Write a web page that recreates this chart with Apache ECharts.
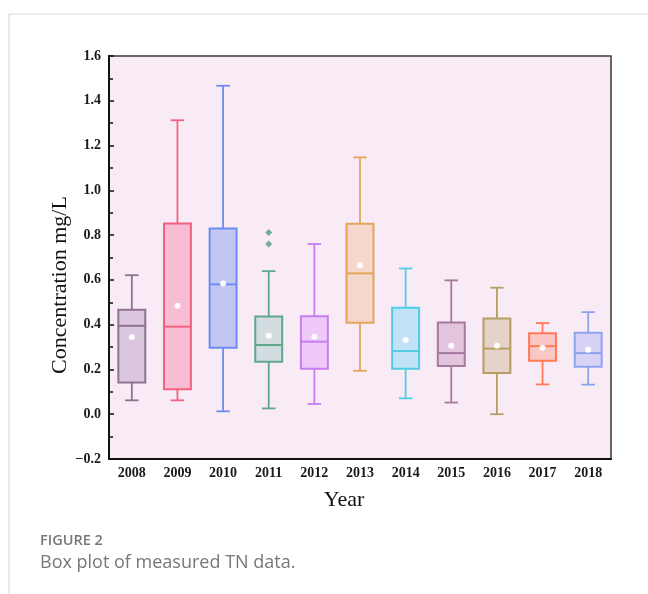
<!DOCTYPE html>
<html>
<head>
<meta charset="utf-8">
<title>Box plot of measured TN data</title>
<script src="https://cdn.jsdelivr.net/npm/echarts@6/dist/echarts.min.js"></script>
<style>
  html, body { margin: 0; padding: 0; background: #ffffff; }
  #chart { width: 648px; height: 594px; }
</style>
</head>
<body>
<div id="chart"></div>
<script>
// Yearly TN concentration summaries (mg/L)
const years = ['2008', '2009', '2010', '2011', '2012', '2013', '2014', '2015', '2016', '2017', '2018'];
const whiskerLow  = [0.062, 0.062, 0.013, 0.026, 0.046, 0.194, 0.071, 0.052, 0.000, 0.133, 0.132];
const quartile1   = [0.142, 0.111, 0.297, 0.234, 0.203, 0.409, 0.203, 0.215, 0.184, 0.239, 0.212];
const medians     = [0.395, 0.391, 0.580, 0.309, 0.324, 0.629, 0.282, 0.273, 0.293, 0.304, 0.273];
const quartile3   = [0.467, 0.852, 0.830, 0.437, 0.438, 0.851, 0.476, 0.410, 0.428, 0.362, 0.364];
const whiskerHigh = [0.621, 1.313, 1.467, 0.639, 0.760, 1.147, 0.651, 0.598, 0.565, 0.407, 0.456];
const means       = [0.345, 0.484, 0.584, 0.351, 0.346, 0.665, 0.331, 0.306, 0.306, 0.297, 0.288];

// Outliers beyond the whiskers
const outlierYears  = ['2011', '2011'];
const outlierValues = [0.812, 0.760];

// Y axis tick values
const yTicks = [-0.2, 0.0, 0.2, 0.4, 0.6, 0.8, 1.0, 1.2, 1.4, 1.6];

const strokeColors = ['#8f7290', '#f4617f', '#6c8cf0', '#5fa78a', '#c67ef0', '#e2a55a', '#4fcde6', '#a5789c', '#b59e60', '#ff7a55', '#8ea3ee'];
const fillColors   = ['#dac6de', '#f8bdd4', '#c4c7f4', '#d3dce1', '#efc9f7', '#f6d7cc', '#c2e2f8', '#e3c4dd', '#e4d2cb', '#fbc7c5', '#d7d3f6'];

const chart = echarts.init(document.getElementById('chart'), null, { renderer: 'canvas' });

const boxData = years.map((y, i) => [i, whiskerLow[i], quartile1[i], medians[i], quartile3[i], whiskerHigh[i]]);
const meanData = years.map((y, i) => [i, means[i]]);
const outlierData = outlierYears.map((y, k) => [years.indexOf(y), outlierValues[k]]);

function renderBox(params, api) {
  const i = api.value(0);
  const x = api.coord([i, 0])[0];
  const yLow = api.coord([i, api.value(1)])[1];
  const yQ1 = api.coord([i, api.value(2)])[1];
  const yMed = api.coord([i, api.value(3)])[1];
  const yQ3 = api.coord([i, api.value(4)])[1];
  const yHigh = api.coord([i, api.value(5)])[1];
  const band = api.size([1, 0])[0];
  const boxW = band * 0.59;
  const capW = boxW * 0.5;
  const stroke = strokeColors[i];
  const lineStyle = { stroke: stroke, lineWidth: 1.8 };
  return {
    type: 'group',
    children: [
      { type: 'line', shape: { x1: x, y1: yHigh, x2: x, y2: yQ3 }, style: lineStyle },
      { type: 'line', shape: { x1: x, y1: yQ1, x2: x, y2: yLow }, style: lineStyle },
      { type: 'line', shape: { x1: x - capW / 2, y1: yHigh, x2: x + capW / 2, y2: yHigh }, style: lineStyle },
      { type: 'line', shape: { x1: x - capW / 2, y1: yLow, x2: x + capW / 2, y2: yLow }, style: lineStyle },
      { type: 'rect', shape: { x: x - boxW / 2, y: yQ3, width: boxW, height: yQ1 - yQ3 },
        style: { fill: fillColors[i], stroke: stroke, lineWidth: 2 } },
      { type: 'line', shape: { x1: x - boxW / 2, y1: yMed, x2: x + boxW / 2, y2: yMed }, style: { stroke: stroke, lineWidth: 2 } }
    ]
  };
}

const serif = '"Liberation Serif", "Times New Roman", serif';

chart.setOption({
  animation: false,
  backgroundColor: '#ffffff',
  grid: {
    left: 109, top: 56, right: 37, bottom: 135,
    show: true, backgroundColor: '#f8ebf6', borderColor: '#3a3a3a', borderWidth: 1.5
  },
  xAxis: {
    type: 'category',
    data: years,
    axisLine: { show: true, onZero: false, lineStyle: { color: '#111', width: 2 } },
    axisTick: { show: false },
    axisLabel: { color: '#1a1a1a', fontFamily: serif, fontSize: 14, fontWeight: 600, margin: 7 },
    splitLine: { show: false }
  },
  yAxis: {
    type: 'value',
    min: yTicks[0],
    max: yTicks[yTicks.length - 1],
    interval: 0.2,
    axisLine: { show: true, lineStyle: { color: '#111', width: 2 } },
    axisTick: { show: true, inside: true, length: 5, lineStyle: { color: '#111', width: 1.5 } },
    minorTick: { show: true, splitNumber: 2, length: 4, lineStyle: { color: '#111', width: 1.5 } },
    axisLabel: {
      color: '#1a1a1a', fontFamily: serif, fontSize: 14, fontWeight: 600, margin: 8,
      formatter: v => v.toFixed(1).replace('-', '\u2212')
    },
    splitLine: { show: false }
  },
  series: [
    { type: 'custom', renderItem: renderBox, data: boxData, encode: { x: 0, y: [1, 2, 3, 4, 5] }, z: 2 },
    { type: 'scatter', data: meanData, symbol: 'circle', symbolSize: 6,
      itemStyle: { color: '#ffffff', opacity: 0.95 }, z: 4 },
    { type: 'scatter', data: outlierData, symbol: 'diamond', symbolSize: 7,
      itemStyle: { color: '#4f9e80' }, z: 4 }
  ],
  graphic: [
    { type: 'line', shape: { x1: 9, y1: 14, x2: 648, y2: 14 }, style: { stroke: '#dcdcdc', lineWidth: 1.2 } },
    { type: 'line', shape: { x1: 9, y1: 14, x2: 9, y2: 594 }, style: { stroke: '#dcdcdc', lineWidth: 1.2 } },
    { type: 'text', x: 60, y: 285, rotation: Math.PI / 2,
      style: { text: 'Concentration mg/L', font: '22px ' + serif, fill: '#111', align: 'center', verticalAlign: 'middle' } },
    { type: 'text', x: 344, y: 500,
      style: { text: 'Year', font: '22px ' + serif, fill: '#111', align: 'center', verticalAlign: 'middle' } },
    { type: 'text', x: 40, y: 541,
      style: { text: 'FIGURE 2', font: '600 14.5px "Open Sans", sans-serif', fill: '#777777', align: 'left', verticalAlign: 'middle' } },
    { type: 'text', x: 40, y: 563,
      style: { text: 'Box plot of measured TN data.', font: '18px "Open Sans", sans-serif', fill: '#777777', align: 'left', verticalAlign: 'middle' } }
  ]
});
</script>
</body>
</html>
